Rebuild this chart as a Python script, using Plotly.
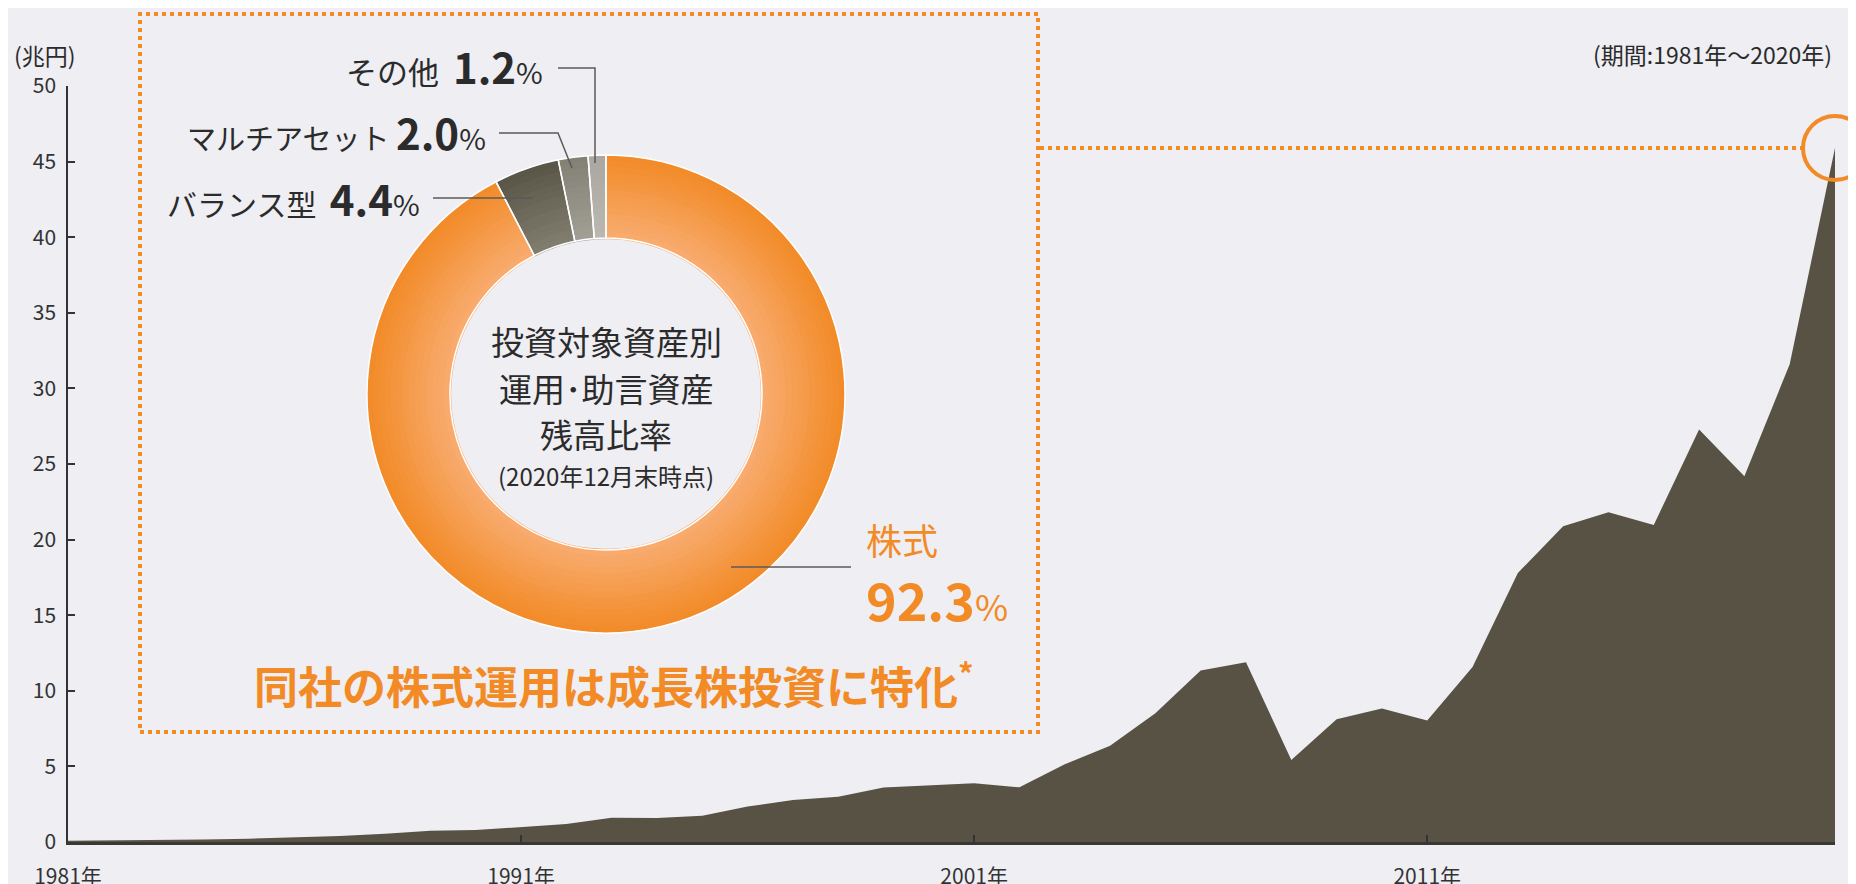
import plotly.graph_objects as go

# ---------------- data ----------------
years = list(range(1981, 2021))
assets = [0.08, 0.10, 0.13, 0.16, 0.22, 0.30, 0.40, 0.55, 0.75, 0.79,
          0.97, 1.19, 1.61, 1.59, 1.74, 2.34, 2.78, 3.00, 3.60, 3.73,
          3.89, 3.62, 5.14, 6.36, 8.52, 11.35, 11.88, 5.43, 8.12, 8.83,
          8.04, 11.57, 17.79, 20.88, 21.81, 20.97, 27.28, 24.19, 31.6, 45.9]

y_ticks = list(range(0, 51, 5))
x_tickvals = [1981, 1991, 2001, 2011]
x_ticktext = ["1981年", "1991年", "2001年", "2011年"]

pie_labels = ["株式", "バランス型", "マルチアセット", "その他"]
pie_values = [92.3, 4.4, 2.0, 1.2]

# ---------------- style ----------------
OFF = 8                      # page body margin
W, H = 1856, 884
# plot area in screen pixels: x 68..1835, y 86..842
ML, MT = 68 - OFF, 86 - OFF
MR, MB = W - (1835 - OFF), H - (842 - OFF)
PW, PH = W - ML - MR, H - MT - MB
FONT = "Noto Sans CJK JP, Noto Sans, sans-serif"
BG = "#eeeef3"
ORANGE = "#f28a26"
DARK = "#575244"
TXT = "#2b2b2b"


def X(px):  # screen px -> paper
    return (px - OFF - ML) / PW


def Y(py):
    return (MT + PH - (py - OFF)) / PH


fig = go.Figure()

# area chart
fig.add_trace(go.Scatter(
    x=years, y=assets, mode="lines", fill="tozeroy",
    line=dict(width=0, color=DARK), fillcolor=DARK,
    hovertemplate="%{x}年: %{y}兆円<extra></extra>", showlegend=False))

# circle at last point
fig.add_trace(go.Scatter(
    x=years[-1:], y=assets[-1:], mode="markers", cliponaxis=False,
    marker=dict(size=64, color="rgba(0,0,0,0)",
                line=dict(color=ORANGE, width=4)),
    hoverinfo="skip", showlegend=False))

# ---------------- donut with radial gradient ----------------
cx, cy = 606, 394
R_out, R_in = 239, 156
N = 14
outer_cols = [(242, 138, 38), (88, 84, 70), (130, 127, 115), (170, 167, 160)]
inner_cols = [(248, 172, 112), (130, 126, 112), (162, 159, 150), (187, 184, 178)]


def mix(a, b, t):
    return "rgb(%d,%d,%d)" % tuple(round(a[i] + (b[i] - a[i]) * t) for i in range(3))


for k in range(N):
    r0 = R_out - k * (R_out - R_in) / N
    r1 = R_out - (k + 1) * (R_out - R_in) / N
    t = (k + 0.5) / N
    cols = [mix(o, i, t) for o, i in zip(outer_cols, inner_cols)]
    fig.add_trace(go.Pie(
        labels=pie_labels, values=pie_values, sort=False, direction="clockwise",
        rotation=0, hole=max(r1 - 1.2, 0) / r0, textinfo="none",
        marker=dict(colors=cols, line=dict(width=0)),
        domain=dict(x=[X(cx - r0), X(cx + r0)], y=[Y(cy + r0), Y(cy - r0)]),
        hoverinfo="skip", showlegend=False))

# separators overlay
fig.add_trace(go.Pie(
    labels=pie_labels, values=pie_values, sort=False, direction="clockwise",
    rotation=0, hole=R_in / R_out, textinfo="none",
    marker=dict(colors=["rgba(0,0,0,0)"] * 4, line=dict(color="white", width=1.5)),
    domain=dict(x=[X(cx - R_out), X(cx + R_out)], y=[Y(cy + R_out), Y(cy - R_out)]),
    hovertemplate="%{label}: %{value}%<extra></extra>", showlegend=False))

# ---------------- shapes ----------------
shapes = []
# dotted box
shapes.append(dict(type="rect", xref="paper", yref="paper",
                   x0=X(140), x1=X(1038), y0=Y(732), y1=Y(14),
                   line=dict(color=ORANGE, width=4, dash="dot"), layer="above"))
# dotted line to peak
shapes.append(dict(type="line", xref="paper", yref="y",
                   x0=X(1040), x1=X(1804), y0=assets[-1], y1=assets[-1],
                   line=dict(color=ORANGE, width=4, dash="dot")))
# leader lines
LC = "#5a5a5a"
for pts in [[(558, 68), (595, 68), (595, 163)],
            [(499, 133), (558, 133), (572, 168)],
            [(433, 198), (533, 198)],
            [(731, 567), (851, 567)]]:
    path = "M " + " L ".join("%f,%f" % (X(a), Y(b)) for a, b in pts)
    shapes.append(dict(type="path", xref="paper", yref="paper", path=path,
                       line=dict(color=LC, width=1.5)))

# ---------------- annotations ----------------
ann = []


def add(text, px, py, size, color=TXT, xanchor="center", bold=False):
    ann.append(dict(text=("<b>%s</b>" % text) if bold else text,
                    x=X(px), y=Y(py), xref="paper", yref="paper",
                    xanchor=xanchor, yanchor="middle", showarrow=False,
                    font=dict(family=FONT, size=size, color=color)))


add("(兆円)", 45, 55, 23)
add("(期間:1981年～2020年)", 1834, 54, 23, xanchor="right")

NUM = "<b><span style='font-size:42px'>%s</span></b><span style='font-size:29px'>%%</span>"
add("その他 &nbsp;" + NUM % "1.2", 545, 65, 31, xanchor="right")
add("マルチアセット " + NUM % "2.0", 488, 132, 29, xanchor="right")
add("バランス型 &nbsp;" + NUM % "4.4", 422, 197, 30, xanchor="right")

add("株式", 864, 539, 36, color=ORANGE, xanchor="left")
add("<b><span style='font-size:52px'>92.3</span></b><span style='font-size:36px'>%</span>",
    864, 598, 36, color=ORANGE, xanchor="left")

add("投資対象資産別", cx, 341, 33)
add("運用･助言資産", cx, 388, 33)
add("残高比率", cx, 434, 33)
add("(2020年12月末時点)", cx, 475, 24)

add("同社の株式運用は成長株投資に特化<sup>*</sup>", 252, 683, 44,
    color=ORANGE, xanchor="left", bold=True)

fig.update_layout(
    width=W, height=H,
    margin=dict(l=ML, r=MR, t=MT, b=MB, autoexpand=False),
    paper_bgcolor=BG, plot_bgcolor=BG,
    showlegend=False,
    font=dict(family=FONT, color="#333"),
    shapes=shapes, annotations=ann,
    xaxis=dict(range=[1981, 2020], tickvals=x_tickvals, ticktext=x_ticktext,
               ticks="inside", ticklen=7, tickwidth=1.5, tickcolor="#333",
               showline=True, linecolor="#3a3833", linewidth=3,
               showgrid=False, zeroline=False, ticklabelstandoff=14,
               automargin=False,
               tickfont=dict(family=FONT, size=21, color="#333")),
    yaxis=dict(range=[0, 50], tickvals=y_ticks,
               ticks="inside", ticklen=7, tickwidth=1.5, tickcolor="#333",
               showline=True, linecolor="#333", linewidth=1.5,
               showgrid=False, zeroline=False, ticklabelstandoff=6,
               automargin=False,
               tickfont=dict(family=FONT, size=21, color="#333")),
)

fig.write_html("out.html")
